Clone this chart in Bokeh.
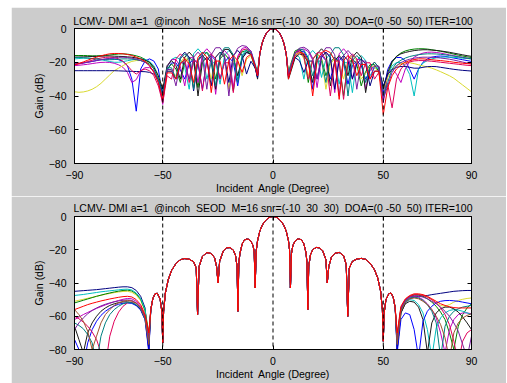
import sys
from bokeh.plotting import figure
from bokeh.models import Span, LinearAxis, Range1d, FixedTicker
from bokeh.layouts import column
from bokeh.embed import file_html
from bokeh.resources import INLINE

FONT = "Liberation Sans"
BG = "#cccccc"
NB = "\u00a0"

x_ticks = [-90, -50, 0, 50, 90]
y_ticks = [-80, -60, -40, -20, 0]
doa_lines = [-50, 0, 50]

title_top = ("LCMV- DMI a=1" + NB + " @incoh" + NB + NB + " NoSE" + NB + " M=16 snr=(-10" + NB +
             " 30" + NB + " 30)" + NB + " DOA=(0 -50" + NB + " 50) ITER=100")
title_bot = ("LCMV- DMI a=1" + NB + " @incoh" + NB + " SEOD" + NB + " M=16 snr=(-10" + NB +
             " 30" + NB + " 30)" + NB + " DOA=(0 -50" + NB + " 50) ITER=100")
x_label = "Incident" + NB + " Angle (Degree)"
y_label = "Gain (dB)"

# ---------------- top panel (NoSE) ----------------
top_left_angles = list(range(-90, -7, 2)) + [-7]          # -90 .. -8, -7
top_main_angles = list(range(-6, 7))                      # -6 .. 6
top_right_angles = [7] + list(range(8, 91, 2))            # 7, 8 .. 90

top_main_gain = [-15, -9, -5.3, -2.8, -1.2, -0.3, 0, -0.3, -1.2, -2.8, -5.3, -9, -15]

top_blue_left = [-21,-20.8,-20.5,-20,-19.5,-19,-18.5,-18.2,-18,-18,-18.5,-19.5,-22,-30,-49,-24,-19.3,-18,-19.3,-24,-40,-24.6,-20.4,-20.4,-24.6,-30,-21,-18,-21,-36,-19,-16,-19,-30,-20,-17,-20,-34,-17.8,-14.1,-15.3,-23.3,-29]
top_blue_right = [-28,-24,-15.4,-13.1,-13.8,-18.4,-36,-19,-16,-19,-30,-20,-17,-20,-33,-22,-19,-22,-30,-25,-22,-25,-38,-24.3,-19.1,-17.2,-17.2,-19.1,-24.3,-30,-24,-20,-18,-17,-16.5,-16.3,-16.5,-17,-17.5,-18,-18.5,-19,-19.5]

top_green_left = [-16,-16,-16,-16.1,-16.2,-16.2,-16.1,-16,-15.7,-15.4,-15.1,-15,-15.2,-15.6,-16.2,-17,-18.3,-20,-24,-30,-43,-24,-21,-24,-32,-20,-17,-20,-35,-17,-14,-17,-30,-18,-15,-18,-37,-18.4,-13.8,-13.1,-15.4,-24,-27]
top_green_right = [-26,-21.3,-13.3,-12.1,-15.8,-32,-18,-15,-18,-28,-20,-17,-20,-40,-21,-18,-21,-34,-25.6,-21.4,-21.4,-25.6,-42,-28,-20,-16.5,-14.5,-13.3,-12.6,-12.2,-12,-12,-12.2,-12.6,-13,-13.5,-14,-14.6,-15.2,-15.8,-16.3,-16.8,-17.2]

top_red_left = [-21.5,-20.7,-19.8,-18.8,-17.8,-17,-16.2,-15.5,-15,-14.8,-14.8,-15,-15.4,-16,-17,-18,-19.5,-22,-26,-32,-42,-26.3,-26.3,-30,-21,-18,-21,-32,-17,-14,-17,-38,-19.3,-19.3,-33,-19,-16,-19,-26,-17.1,-15.2,-22.3,-28]
top_red_right = [-30,-25,-16.4,-14.1,-14.8,-19.4,-40,-19,-14.3,-13,-14.3,-19,-42,-19,-16,-19,-28,-21.3,-21.3,-30,-25.3,-25.3,-51,-35,-28,-24,-21.5,-20,-19,-18.4,-18,-18,-18.2,-18.5,-18.8,-19,-19.3,-19.6,-20,-20.3,-20.6,-20.8,-21]

top_cyan_left = [-18,-17.8,-17.6,-17.6,-17.8,-18.1,-18.5,-19,-19.6,-20,-20,-19.6,-19.1,-18.6,-18.2,-18,-18.3,-19.5,-22,-28,-38,-23,-18.3,-17,-18.3,-23,-36,-15,-12,-15,-30,-20.3,-20.3,-33,-16,-13,-16,-30,-15.8,-12.1,-13.3,-21.3,-26]
top_cyan_right = [-27,-22.3,-15.2,-17.1,-30,-16,-13,-16,-29,-18,-15,-18,-33,-20.3,-20.3,-38,-19,-16,-19,-28,-23.3,-23.3,-35,-27.3,-22.1,-20.2,-20.2,-22.1,-27.3,-40,-24,-20.5,-19,-18,-17.4,-17,-16.9,-17,-17.1,-17.3,-17.6,-17.8,-18]

top_magenta_left = [-22,-21.8,-21.5,-21.2,-20.8,-20.4,-20.1,-20,-20.1,-20.6,-21.5,-23,-26,-32,-30.3,-25.1,-23.2,-23.2,-25.1,-30.3,-45,-22.6,-18.4,-18.4,-22.6,-34,-17.3,-17.3,-32,-15,-12,-15,-39,-16,-13,-16,-35,-16.4,-11.8,-11.1,-13.4,-22,-28]
top_magenta_right = [-28,-24.4,-15.6,-12.6,-12.1,-13.7,-18.7,-35,-17,-14,-17,-38,-15,-12,-15,-30,-18.3,-18.3,-36,-23,-20,-23,-44,-27,-24,-27,-32,-24,-19.5,-17,-15.5,-14.6,-14.1,-14,-14.2,-14.6,-15.1,-15.6,-16.1,-16.6,-17.1,-17.6,-18]

top_yellow_left = [-37.5,-37.8,-37.6,-37,-36,-34.5,-32.5,-30,-27.5,-25,-23.5,-22,-20.5,-19.5,-19,-19,-19.5,-20.5,-23,-28,-36,-25.3,-25.3,-28,-20,-17,-20,-35,-19,-16,-19,-30,-17,-14,-17,-36,-19.3,-19.3,-28,-18.1,-16.2,-23.3,-26]
top_yellow_right = [-26,-23.3,-15.3,-14.1,-17.8,-28,-18,-15,-18,-36,-21,-18,-21,-30,-19,-16,-19,-30,-26.6,-22.4,-22.4,-26.6,-36,-29,-24.5,-22,-20.8,-20.2,-20.3,-20.8,-21.5,-22.2,-22.8,-23.5,-24.5,-25.6,-26.8,-28,-29.5,-31.5,-33.5,-35.5,-37.5]

top_black_left = [-17,-16.9,-16.8,-16.7,-16.6,-16.5,-16.4,-16.3,-16.3,-16.4,-16.5,-16.6,-16.8,-17,-17.5,-18,-18.8,-20,-23,-28,-36,-22,-19,-22,-30,-17,-14,-17,-40,-20,-17,-20,-36,-16.6,-12.4,-12.4,-16.6,-28,-17.8,-14.1,-15.3,-23.3,-30]
top_black_right = [-30,-26,-17.4,-15.1,-15.8,-20.4,-32,-15,-12,-15,-34,-19,-16,-19,-28,-17,-14,-17,-38,-23,-20,-23,-36,-26,-19.5,-16.5,-15,-14.2,-13.6,-13.1,-12.8,-12.6,-12.6,-12.8,-13,-13.3,-13.7,-14.1,-14.6,-15.1,-15.6,-16.1,-16.5]

top_navy_left = [-25,-25,-25,-25,-25,-25,-25,-25,-25,-25,-25.1,-25.2,-25.3,-25.4,-25.5,-25.5,-25.6,-26,-27,-30,-38,-25.3,-25.3,-30,-17,-14,-17,-37,-19,-16,-19,-34,-17,-14,-17,-32,-16,-13,-16,-27,-19.4,-23.6,-29]
top_navy_right = [-29,-24.3,-17.2,-19.1,-26,-19.3,-19.3,-30,-17,-14,-17,-36,-19,-16,-19,-30,-21,-18,-21,-34,-25.3,-25.3,-34,-27,-24.5,-23,-22.5,-22.5,-23,-23.5,-23.5,-23,-22.6,-22.5,-22.6,-23,-23.4,-23.8,-24.2,-24.5,-24.8,-25,-25.2]

top_crimson_left = [-21.5,-21,-20.4,-19.6,-18.8,-18,-17.5,-17.1,-17,-17.2,-18,-19.5,-22,-25,-27,-25,-24,-25,-28,-34,-44,-28,-30,-18,-15,-18,-32,-19.3,-19.3,-37,-18,-15,-18,-30,-20.3,-20.3,-38,-17.4,-12.8,-12.1,-14.4,-23,-28]
top_crimson_right = [-28,-22.3,-14.3,-13.1,-16.8,-30,-18.6,-14.4,-14.4,-18.6,-40,-19.3,-19.3,-42,-18,-15,-18,-28,-20.3,-20.3,-30,-26,-40,-33,-47,-30,-24,-21,-19.8,-19.2,-19,-19,-19.2,-19.4,-19.7,-20,-20.3,-20.6,-20.9,-21.2,-21.5,-21.8,-22]

top_teal_left = [-17,-17.1,-17.3,-17.5,-17.8,-18,-18.3,-18.5,-18.5,-18.4,-18.2,-18,-18,-18.1,-18.5,-19,-19.8,-21,-24,-30,-40,-23.3,-23.3,-30,-18,-15,-18,-36,-18.6,-14.4,-14.4,-18.6,-34,-15.6,-11.4,-11.4,-15.6,-32,-16.8,-13.1,-14.3,-22.3,-26]
top_teal_right = [-26,-23,-14.4,-12.1,-12.8,-17.4,-28,-19.3,-19.3,-32,-15.6,-11.4,-11.4,-15.6,-40,-19,-16,-19,-32,-23,-20,-23,-40,-32,-24,-20.5,-18.8,-17.5,-16.6,-16,-15.5,-15.2,-15,-15,-15.1,-15.3,-15.6,-16,-16.4,-16.8,-17.2,-17.6,-18]

top_purple_left = [-21,-20.7,-20.3,-20,-19.5,-19,-18.5,-18,-17.7,-17.4,-17.1,-17,-17.2,-17.6,-18.2,-19,-20,-22,-26,-32,-42,-24.3,-24.3,-34,-20.3,-20.3,-30,-17,-14,-17,-36,-15.6,-11.4,-11.4,-15.6,-40,-16.7,-11.7,-10.1,-10.6,-13.6,-22.4,-27]
top_purple_right = [-27,-23.4,-14.6,-11.6,-11.1,-12.7,-17.7,-30,-15.6,-11.4,-11.4,-15.6,-40,-16,-13,-16,-36,-19.3,-19.3,-30,-22.3,-22.3,-42,-34,-26,-22,-20.2,-19,-18.2,-17.6,-17.2,-17,-17,-17,-17.2,-17.5,-17.8,-18.2,-18.7,-19.3,-19.9,-20.5,-21]

top_curves = [
    (top_blue_left, top_blue_right, "#0000ff"),
    (top_green_left, top_green_right, "#008000"),
    (top_cyan_left, top_cyan_right, "#00bfbf"),
    (top_magenta_left, top_magenta_right, "#bf00bf"),
    (top_yellow_left, top_yellow_right, "#d9d930"),
    (top_black_left, top_black_right, "#1a1a1a"),
    (top_navy_left, top_navy_right, "#000080"),
    (top_crimson_left, top_crimson_right, "#e0005a"),
    (top_teal_left, top_teal_right, "#008080"),
    (top_purple_left, top_purple_right, "#7a1fa0"),
    (top_red_left, top_red_right, "#ff0000"),
]

# ---------------- bottom panel (SEOD) ----------------
bot_core_angles = [
    -55.4, -54.5, -53.5, -52.5, -51.2, -50.4, -50, -49.6, -48.8, -47.5,
    -46, -44, -42, -40, -38, -36, -34.8, -34.2, -33.5, -32,
    -30, -28, -26.5, -25.6, -24.9, -24.2, -22.5, -21, -19.5, -18,
    -17, -16.3, -15.9, -15.5, -15, -14, -13, -12, -11, -10,
    -9, -8.5, -8.1, -7.6, -7, -6, -5, -4, -3, -2,
    -1, 0, 1, 2, 3, 4, 5, 6, 7, 7.5,
    7.9, 8.4, 9, 10, 11, 12, 13, 14, 15, 15.4,
    15.8, 16.2, 17, 18, 19.5, 21, 22.5, 24, 24.6, 25.3,
    26.5, 28, 30, 32, 33.2, 33.9, 34.6, 36, 38, 40,
    42, 44, 46, 47.5, 48.8, 49.6, 50, 50.4, 51.2, 52.5,
    53.5, 54.5, 55.4]
bot_core_gain = [
    -56, -49.5, -46.5, -46.2, -49.5, -57, -76, -57, -46, -38,
    -32.5, -28.3, -26, -25.3, -25.7, -27.2, -31, -59, -30, -24,
    -21.7, -22.3, -24.8, -30, -40, -27, -20.6, -18.8, -18.7, -20.2,
    -23.5, -30, -57, -28, -22.3, -16.6, -14.2, -13.6, -13.8, -14.9,
    -17.6, -22, -43, -20.5, -14.6, -8.9, -5.6, -3.4, -1.9, -0.8,
    -0.2, 0, -0.2, -0.8, -1.9, -3.4, -5.6, -8.8, -14.5, -20,
    -43, -22, -17.5, -14.8, -13.7, -13.5, -14.2, -16.5, -22, -28,
    -56, -30, -23, -20, -18.6, -18.8, -20.5, -26, -40, -30,
    -24.5, -22.2, -21.6, -23.5, -29, -60, -31, -27, -25.6, -25.2,
    -25.8, -28, -32, -37, -45, -56, -75, -58, -50, -46.5,
    -46, -48.5, -55]

bot_left_angles = list(range(-90, -57, 2)) + [-56.3]      # -90 .. -58, -56.3
bot_right_angles = [56.3] + list(range(58, 91, 2))        # 56.3, 58 .. 90

bot_navy_left = [-45,-44.8,-44.6,-44.4,-44.2,-44,-43.7,-43.4,-43.1,-42.8,-42.5,-42.3,-42.3,-42.8,-44.5,-48,-55,-80]
bot_navy_right = [-80,-58,-52,-49.5,-48.5,-48,-47.8,-47.5,-47,-46.6,-46.2,-45.8,-45.4,-45,-44.8,-44.6,-44.5,-44.5]
bot_yellow_left = [-51,-50.4,-49.8,-49.2,-48.6,-48,-47.4,-46.8,-46.3,-45.8,-45.4,-45.1,-45,-45.6,-47.3,-50.5,-57,-72]
bot_yellow_right = [-76,-56,-50.5,-48,-47,-47,-47.5,-48.5,-50,-52,-53.5,-54,-53,-51.5,-50.5,-49.8,-49.3,-49]
bot_green_left = [-52,-51.2,-50.4,-49.6,-48.8,-48,-47.3,-46.6,-46,-45.4,-44.9,-44.5,-44.3,-44.8,-46.5,-49.8,-56.5,-70]
bot_green_right = [-72,-55,-50,-48,-47.3,-47.3,-48,-49.5,-51.5,-54,-57.5,-62,-70,-80,-66,-59,-55,-52.5]
bot_red_left = [-56,-55,-54,-53,-52.2,-51.5,-50.8,-50.2,-49.6,-49.1,-48.6,-48.2,-48,-48.4,-50,-53,-59,-70]
bot_red_right = [-70,-54,-49.5,-47.5,-46.5,-46.5,-47,-48,-49.5,-51,-52.5,-53.5,-54.3,-54.8,-55,-55,-55,-55]
bot_magenta_left = [-62,-60.5,-59,-57.7,-56.5,-55.3,-54.2,-53.2,-52.2,-51.3,-50.5,-49.8,-49.3,-49.5,-51,-54,-60,-74]
bot_magenta_right = [-74,-55.5,-50.5,-48.5,-48,-48.5,-50,-52.5,-56,-61,-70,-82,-68,-62,-59,-58,-58,-58.5]
bot_cyan_left = [-47.5,-47.2,-46.9,-46.5,-46.1,-45.7,-45.3,-45,-44.7,-44.4,-44.1,-43.8,-43.7,-44.2,-46,-49.3,-56,-76]
bot_cyan_right = [-78,-57,-51.5,-50,-50.5,-53,-58,-68,-85,-67,-61,-58,-56.5,-56,-56.3,-57,-58,-59]
bot_black_left = [-66,-74,-82,-70,-64,-60,-57,-55,-53.5,-52.5,-51.8,-51.4,-51.3,-51.8,-53.3,-56,-62,-80]
bot_black_right = [-80,-58,-52.5,-51,-51.5,-54.5,-62,-82,-64,-58,-55.5,-54.5,-54.5,-55.5,-57.5,-60.5,-64,-68]
bot_blue_left = [-74,-80,-90,-76,-68,-63,-59.5,-57,-55.2,-53.8,-52.8,-52.2,-52,-52.3,-53.6,-56.3,-62,-82]
bot_blue_right = [-82,-62,-58,-59,-68,-85,-63,-57,-54,-52,-51,-50.6,-50.5,-50.7,-51,-51.5,-52,-52.5]
bot_crimson_left = [-60,-61.5,-63.5,-66,-69.5,-74,-82,-90,-72,-63,-57.5,-54,-52,-51.3,-52,-54.5,-60,-72]
bot_crimson_right = [-72,-55,-50,-48,-47,-47,-47.5,-48.5,-50,-52,-55,-59,-65,-75,-88,-75,-70,-68]
bot_teal_left = [-64,-65.5,-67.5,-71,-76,-88,-72,-64,-59,-56,-54,-52.5,-51.8,-51.8,-53,-55.5,-61.5,-76]
bot_teal_right = [-76,-56,-51,-49,-48.5,-49,-50.5,-53,-57,-64,-85,-66,-60,-57,-55.5,-54.5,-54,-53.5]
bot_purple_left = [-68,-64,-61,-58.5,-56.5,-55,-53.8,-52.8,-52,-51.3,-50.8,-50.4,-50.2,-50.5,-52,-55,-61,-74]
bot_purple_right = [-74,-55.5,-50.5,-48.5,-47.8,-47.8,-48.5,-49.5,-51,-52.5,-54.5,-57,-60,-64,-69,-77,-85,-72]
bot_brown_left = [-56,-59,-63,-69,-80,-72,-64,-59,-56,-53.5,-52,-51,-50.5,-50.8,-52.2,-55,-61,-77]
bot_brown_right = [-77,-57,-51.5,-49.5,-49,-49.5,-51,-53,-56,-60,-65,-73,-86,-70,-64,-61,-59.5,-58.5]

bot_curves = [
    (bot_navy_left, bot_navy_right, "#000080"),
    (bot_yellow_left, bot_yellow_right, "#d9d930"),
    (bot_green_left, bot_green_right, "#008000"),
    (bot_magenta_left, bot_magenta_right, "#bf00bf"),
    (bot_cyan_left, bot_cyan_right, "#00bfbf"),
    (bot_black_left, bot_black_right, "#1a1a1a"),
    (bot_blue_left, bot_blue_right, "#0000ff"),
    (bot_crimson_left, bot_crimson_right, "#e0005a"),
    (bot_teal_left, bot_teal_right, "#008080"),
    (bot_purple_left, bot_purple_right, "#7a1fa0"),
    (bot_brown_left, bot_brown_right, "#a0522d"),
    (bot_red_left, bot_red_right, "#ff0000"),
]


def pairs(xs, ys, name):
    if len(xs) != len(ys):
        print("length mismatch", name, len(xs), len(ys), file=sys.stderr)
    n = min(len(xs), len(ys))
    return list(xs[:n]), list(ys[:n])


def make_panel(title, frame_h, b_top, b_bottom, title_standoff):
    p = figure(frame_width=397, frame_height=frame_h,
               x_range=Range1d(-90, 90), y_range=Range1d(-80, 0),
               output_backend="svg", toolbar_location=None,
               min_border_left=63, min_border_right=35,
               min_border_top=b_top, min_border_bottom=b_bottom,
               title=title)
    p.border_fill_color = BG
    p.background_fill_color = "white"
    p.outline_line_color = "black"
    p.outline_line_width = 1
    p.grid.visible = False
    p.title.align = "center"
    p.title.text_font = FONT
    p.title.text_font_size = "10.5px"
    p.title.text_font_style = "normal"
    p.title.text_color = "black"
    p.title.standoff = title_standoff
    for ax in (p.xaxis[0], p.yaxis[0]):
        ax.major_tick_in = 4
        ax.major_tick_out = 0
        ax.minor_tick_line_color = None
        ax.axis_line_color = "black"
        ax.major_tick_line_color = "black"
        ax.major_label_text_font = FONT
        ax.major_label_text_font_size = "10.5px"
        ax.major_label_text_color = "black"
        ax.axis_label_text_font = FONT
        ax.axis_label_text_font_size = "10.5px"
        ax.axis_label_text_font_style = "normal"
        ax.axis_label_text_color = "black"
    p.xaxis.ticker = FixedTicker(ticks=x_ticks)
    p.yaxis.ticker = FixedTicker(ticks=y_ticks)
    p.xaxis.axis_label = x_label
    p.yaxis.axis_label = y_label
    p.xaxis.major_label_standoff = 7
    p.xaxis.axis_label_standoff = 0
    p.yaxis.major_label_standoff = 8
    p.yaxis.axis_label_standoff = 1
    for loc, ticks in (("right", y_ticks), ("above", x_ticks)):
        extra = LinearAxis(ticker=FixedTicker(ticks=ticks), major_tick_in=4, major_tick_out=0,
                           minor_tick_line_color=None, axis_line_color="black",
                           major_label_text_font_size="0px", major_label_text_color=None,
                           major_label_standoff=0)
        p.add_layout(extra, loc)
    return p


def add_spans(p):
    for v in doa_lines:
        p.add_layout(Span(location=v, dimension="height", line_color="black",
                          line_dash="4 3", line_width=1))


p_top = make_panel(title_top, 135, 21, 31, 4)
for i, (lv, rv, col) in enumerate(top_curves):
    xs, ys = pairs(top_left_angles + top_main_angles + top_right_angles,
                   lv + top_main_gain + rv, "top%d" % i)
    p_top.line(xs, ys, line_color=col, line_width=1)
add_spans(p_top)

p_bot = make_panel(title_bot, 133, 20, 35, 6)
for i, (lv, rv, col) in enumerate(bot_curves):
    xs, ys = pairs(bot_left_angles + bot_core_angles + bot_right_angles,
                   lv + bot_core_gain + rv, "bot%d" % i)
    p_bot.line(xs, ys, line_color=col, line_width=1)
add_spans(p_bot)

layout = column(p_top, p_bot, spacing=0, margin=(7, 0, 0, 11))
open("out.html", "w").write(file_html(layout, INLINE))
